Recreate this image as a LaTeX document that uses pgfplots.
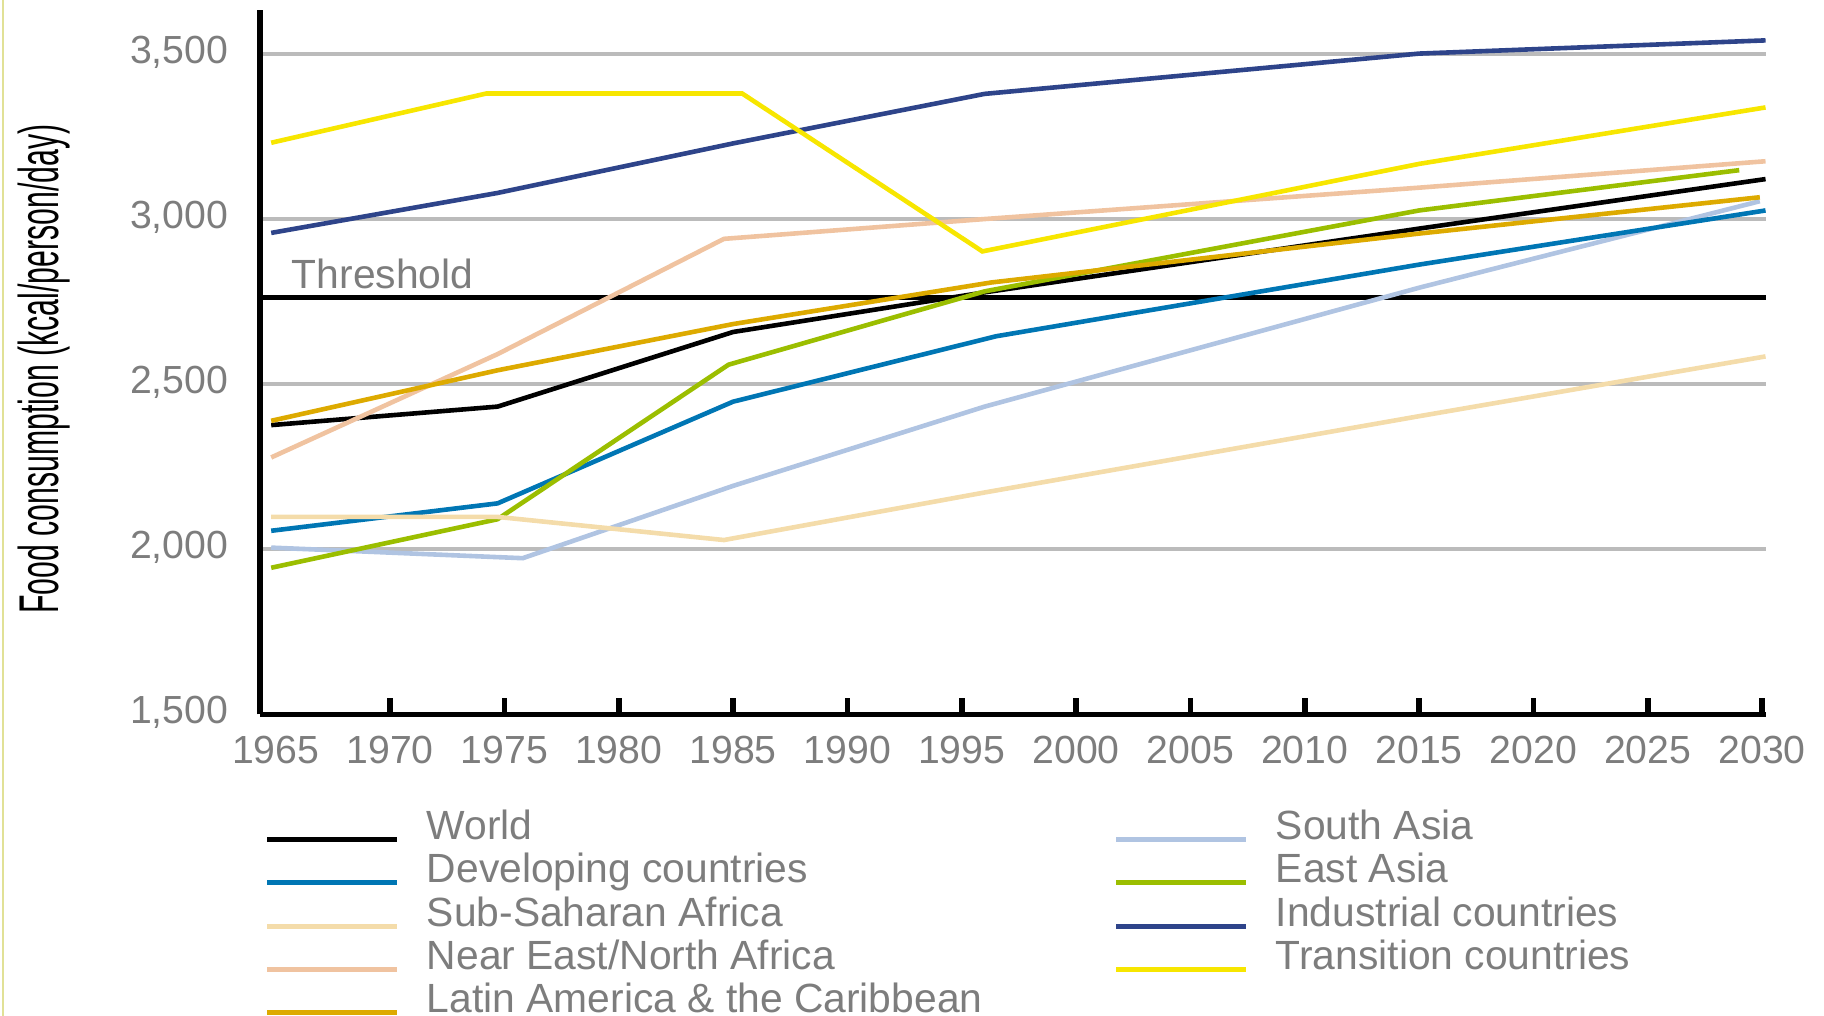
\documentclass[border=0pt]{standalone}
\usepackage{fontspec}
\setmainfont{Liberation Sans}
\newfontfamily\ylabfont[FakeStretch=0.54]{Liberation Sans}
\usepackage{pgfplots}
\pgfplotsset{compat=1.18}
\definecolor{cWorld}{RGB}{0,0,0}
\definecolor{cDev}{RGB}{0,118,180}
\definecolor{cSSA}{RGB}{244,220,170}
\definecolor{cNE}{RGB}{240,195,160}
\definecolor{cLA}{RGB}{221,170,0}
\definecolor{cSA}{RGB}{176,196,226}
\definecolor{cEA}{RGB}{155,190,0}
\definecolor{cInd}{RGB}{46,68,138}
\definecolor{cTr}{RGB}{247,230,0}
\definecolor{gridgray}{RGB}{187,187,187}
\definecolor{textgray}{RGB}{125,125,125}
\definecolor{edgecol}{RGB}{225,225,150}

\begin{document}
\begin{tikzpicture}
\path[use as bounding box] (-65pt,-75.4pt) rectangle (391pt,178.6pt);
\draw[edgecol, line width=0.5pt] (-64.2pt,-75.4pt) -- (-64.2pt,178.6pt);
\begin{axis}[
  scale only axis, width=376.5pt, height=176.1pt,
  xmin=1964.31, xmax=2030.17, ymin=1500, ymax=3633,
  axis x line*=bottom, axis y line*=left,
  x axis line style={line width=1.25pt, black},
  y axis line style={line width=1.6pt, black},
  /pgf/number format/assume math mode=true,
  /pgf/number format/1000 sep={},
  ytick={1500,2000,2500,3000,3500},
  yticklabel style={/pgf/number format/1000 sep={,}, anchor=east, inner sep=0pt, xshift=-7.75pt, yshift=0.4pt, font=\fontsize{9.8}{11}\selectfont, text=textgray},
  xtick={1970,1975,...,2030},
  extra x ticks={1965},
  extra x tick style={major tick length=0pt},
  xticklabel style={anchor=north, inner sep=0pt, yshift=-5.15pt, font=\fontsize{9.8}{11}\selectfont, text=textgray},
  tick align=inside,
  major tick length=4.1pt,
  xtick style={black, line width=1.4pt},
  ytick style={draw=none},
  ymajorgrids, grid style={gridgray, line width=1pt},
  ylabel={Food consumption (kcal/person/day)},
  ylabel style={font=\ylabfont\fontsize{14}{16}\selectfont, at={(rel axis cs:-0.1434,0.4903)}, anchor=center, inner sep=0pt},
  legend columns=2,
  legend style={at={(0.0027,-0.1337)}, anchor=north west, draw=none, fill=none, inner sep=0pt, row sep=2.5pt,
    font=\fontsize{10.2}{12}\selectfont, text=textgray, cells={anchor=base west},
    nodes={inner sep=0pt, text height=7.6pt, text depth=0.7pt},
    /tikz/every odd column/.append style={column sep=6.75pt},
    /tikz/every even column/.append style={column sep=32.85pt}},
  legend image code/.code={\draw[#1, line width=1.25pt] (0pt,0pt) -- (32.5pt,0pt);},
]
% threshold line
\addplot[black, line width=1.2pt, forget plot] coordinates {(1964.31,2763) (2030.17,2763)};
\node[anchor=base west, inner sep=0pt, text=textgray, font=\fontsize{10.2}{12}\selectfont] at (axis cs:1965.67,2791) {Threshold};

\addplot[cWorld, line width=1.15pt] coordinates {(1964.8,2376) (1974.7,2432) (1985,2658) (1996,2778) (2015,2971) (2030.15,3121)};
\addlegendentry{World}
\addplot[cSA, line width=1.15pt] coordinates {(1964.8,2005) (1975.8,1973) (1985,2192) (1996,2432) (2015,2792) (2029.9,3054)};
\addlegendentry{South Asia}
\addplot[cDev, line width=1.15pt] coordinates {(1964.8,2056) (1974.7,2139) (1985,2447) (1996.5,2645) (2015,2862) (2030.15,3026)};
\addlegendentry{Developing countries}
\addplot[cEA, line width=1.15pt] coordinates {(1964.8,1944) (1974.7,2091) (1984.8,2559) (1996,2781) (2015,3026) (2029,3148)};
\addlegendentry{East Asia}
\addplot[cSSA, line width=1.15pt] coordinates {(1964.8,2098) (1974.7,2098) (1984.6,2028) (1996,2172) (2015,2403) (2030.15,2584)};
\addlegendentry{Sub-Saharan Africa}
\addplot[cInd, line width=1.15pt] coordinates {(1964.8,2958) (1974.7,3079) (1985,3229) (1996,3379) (2015,3501) (2030.15,3541)};
\addlegendentry{Industrial countries}
\addplot[cNE, line width=1.15pt] coordinates {(1964.8,2278) (1974.7,2591) (1984.6,2940) (1996,3000) (2015,3095) (2030.15,3175)};
\addlegendentry{Near East/North Africa}
\addplot[cTr, line width=1.15pt] coordinates {(1964.8,3231) (1974.2,3380) (1985.4,3380) (1995.9,2902) (2015,3167) (2030.15,3338)};
\addlegendentry{Transition countries}
\addplot[cLA, line width=1.15pt] coordinates {(1964.8,2389) (1974.7,2542) (1985,2682) (1996.3,2808) (2015,2956) (2029.9,3066)};
\addlegendentry{Latin America \& the Caribbean}
\end{axis}
\end{tikzpicture}
\end{document}
